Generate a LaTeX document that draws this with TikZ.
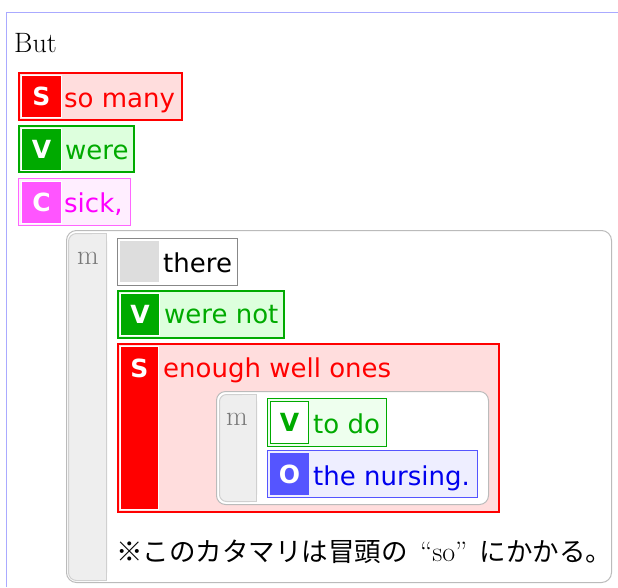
\documentclass[tikz,border=0pt]{standalone}
\usepackage{fontspec}
\newfontfamily\vfont{DejaVu Sans}
\newfontfamily\cjk{Noto Sans CJK JP}
\definecolor{sred}{HTML}{FF0000}
\definecolor{sfill}{HTML}{FFDDDD}
\definecolor{vgreen}{HTML}{00AA00}
\definecolor{vfill}{HTML}{DDFFDD}
\definecolor{vlight}{HTML}{EEFFEE}
\definecolor{cborder}{HTML}{FF66FF}
\definecolor{cfill}{HTML}{FFEEFF}
\definecolor{clab}{HTML}{FF55FF}
\definecolor{ctext}{HTML}{FF00FF}
\definecolor{oblue}{HTML}{5555FF}
\definecolor{ofill}{HTML}{EEEEFF}
\definecolor{otext}{HTML}{0000EE}
\definecolor{mgray}{HTML}{EEEEEE}
\definecolor{mborder}{HTML}{BBBBBB}
\definecolor{colb}{HTML}{D0D0D0}
\definecolor{mtext}{HTML}{777777}
\definecolor{tborder}{HTML}{888888}
\definecolor{tlab}{HTML}{DDDDDD}
\definecolor{framec}{HTML}{AAAAFF}
\tikzset{
  txt/.style={anchor=base west, inner sep=0pt, font=\vfont\fontsize{26}{30}\selectfont},
  lab/.style={inner sep=0pt, text=white, font=\vfont\bfseries\fontsize{25}{30}\selectfont},
  ser/.style={anchor=base west, inner sep=0pt, font=\fontsize{28}{32}\selectfont},
  labbox/.style={draw=white, line width=1pt},
  thin/.style={line width=1pt},
  thick2/.style={line width=2pt},
}
\begin{document}
\begin{tikzpicture}[x=1pt,y=-1pt]
\useasboundingbox (0,0) rectangle (618,587);
\fill[white] (0,0) rectangle (618,587);
% frame
\draw[framec, thin] (6.5,587) -- (6.5,12.5) -- (618,12.5);
\node[ser] (but) at (14,52) {But};

% S so many
\draw[sred, fill=sfill, thick2] (19,73) rectangle (182,120);
\draw[labbox, fill=sred] (21.5,75.5) rectangle (61.5,117.5);
\node[lab] (s1) at (41.5,96.5) {S};
\node[txt, text=sred] (s1t) at (64,107) {so many};

% V were
\draw[vgreen, fill=vfill, thick2] (19,126) rectangle (134,172);
\draw[labbox, fill=vgreen] (21.5,128.5) rectangle (61.5,170.5);
\node[lab] (v1) at (41.5,149.5) {V};
\node[txt, text=vgreen] (v1t) at (65,159) {were};

% C sick,
\draw[cborder, fill=cfill, thin] (18.5,178.5) rectangle (130.5,225.5);
\draw[labbox, fill=clab] (21.5,181) rectangle (61.5,223);
\node[lab] (c1) at (41.5,202) {C};
\node[txt, text=ctext] (c1t) at (64,212) {sick,};

% outer m box
\draw[mborder, fill=white, thin, rounded corners=10] (66.5,230.5) rectangle (611.5,582.5);
\draw[colb, fill=mgray, thin, rounded corners=8] (68.5,233.5) rectangle (106.5,580.5);
\fill[mgray] (92,234) rectangle (106,580);
\draw[colb, thin] (92,233.5) -- (106.5,233.5) -- (106.5,580.5) -- (92,580.5);
\node[ser, text=mtext] (m1) at (77,264) {m};

% there
\draw[tborder, fill=white, thin] (117.5,238.5) rectangle (237.5,285.5);
\fill[tlab] (120,241) rectangle (159,282);
\node[txt, text=black] (t1) at (163,272) {there};

% V were not
\draw[vgreen, fill=vfill, thick2] (118,291) rectangle (284,338);
\draw[labbox, fill=vgreen] (120.5,293.5) rectangle (159.5,335.5);
\node[lab] (v2) at (140,314.5) {V};
\node[txt, text=vgreen] (v2t) at (164,323) {were not};

% S enough well ones
\draw[sred, fill=sfill, thick2] (118,344) rectangle (499,512);
\draw[labbox, fill=sred] (120.5,346.5) rectangle (158.5,509.5);
\node[lab] (s2) at (139.5,368) {S};
\node[txt, text=sred] (s2t) at (163,377) {enough well ones};

% inner m box
\draw[mborder, fill=white, thin, rounded corners=9] (216.5,391.5) rectangle (488.5,504.5);
\draw[colb, fill=mgray, thin, rounded corners=7] (219.5,394.5) rectangle (256.5,501.5);
\fill[mgray] (242,395) rectangle (256,501);
\draw[colb, thin] (242,394.5) -- (256.5,394.5) -- (256.5,501.5) -- (242,501.5);
\node[ser, text=mtext] (m2) at (226,425) {m};

% V to do
\draw[vgreen, fill=vlight, thin] (267.5,398.5) rectangle (386.5,446.5);
\draw[vgreen, fill=white, thin] (270.5,401.5) rectangle (308.5,443.5);
\node[lab, text=vgreen] (v3) at (289.5,422.5) {V};
\node[txt, text=vgreen] (v3t) at (313,433) {to do};

% O the nursing.
\draw[oblue, fill=ofill, thin] (267.5,450.5) rectangle (477.5,497.5);
\fill[oblue] (270,453) rectangle (309,495);
\node[lab] (o1) at (289.5,474) {O};
\node[txt, text=otext] (o1t) at (313,485) {the nursing.};

% note
\node[anchor=base west, inner sep=0pt, font=\fontsize{26.5}{30}\selectfont] (note) at (116,561)
  {\cjk ※このカタマリは冒頭の\makebox[72pt]{\rmfamily\fontsize{28}{30}\selectfont “so”}にかかる。};
\end{tikzpicture}
\end{document}
